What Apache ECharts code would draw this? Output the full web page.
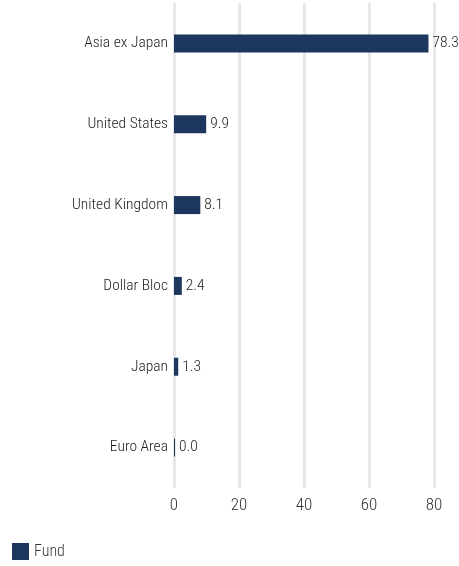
<!DOCTYPE html>
<html>
<head>
<meta charset="utf-8">
<script src="https://cdn.jsdelivr.net/npm/echarts@6/dist/echarts.min.js"></script>
<style>
  html, body { margin: 0; padding: 0; background: #fff; }
  #chart { width: 459px; height: 566px; }
</style>
</head>
<body>
<div id="chart"></div>
<script>
// categories top to bottom
var categories = ["Asia ex Japan", "United States", "United Kingdom", "Dollar Bloc", "Japan", "Euro Area"];
var fundValues = [78.3, 9.9, 8.1, 2.4, 1.3, 0.0];
var xTicks = [0, 20, 40, 60, 80];

var font = '"Roboto Condensed", "Liberation Sans Narrow", sans-serif';

var chart = echarts.init(document.getElementById("chart"));
chart.setOption({
  animation: false,
  grid: {
    left: 174,
    right: 25,
    top: 3,
    bottom: 78
  },
  legend: {
    data: ["Fund"],
    left: 7,
    bottom: 1,
    itemWidth: 17,
    itemHeight: 17,
    itemGap: 8,
    icon: "rect",
    textStyle: { fontFamily: font, fontWeight: 300, fontSize: 16, color: "#333" }
  },
  xAxis: {
    type: "value",
    min: xTicks[0],
    max: xTicks[xTicks.length - 1],
    interval: 20,
    axisLine: { show: false },
    axisTick: { show: false },
    axisLabel: { fontFamily: font, fontWeight: 300, fontSize: 17, color: "#333", margin: 9 },
    splitLine: { lineStyle: { color: "#e8e8e8", width: 3 } }
  },
  yAxis: {
    type: "category",
    inverse: true,
    data: categories,
    axisLine: { show: false },
    axisTick: { show: false },
    axisLabel: { fontFamily: font, fontWeight: 300, fontSize: 15.5, color: "#222", margin: 6 }
  },
  series: [
    {
      name: "Fund",
      type: "bar",
      data: fundValues,
      barWidth: 18,
      barMinHeight: 1,
      itemStyle: { color: "#1c365e" },
      label: {
        show: true,
        position: "right",
        distance: 4,
        formatter: function (p) { return p.value.toFixed(1); },
        fontFamily: font,
        fontWeight: 300,
        fontSize: 15.5,
        color: "#222"
      }
    }
  ]
});
</script>
</body>
</html>
